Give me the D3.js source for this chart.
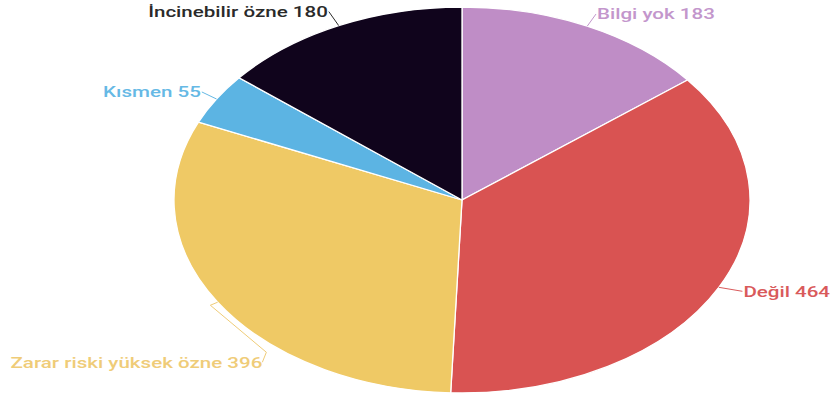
<!DOCTYPE html>
<html><head><meta charset="utf-8">
<script src="https://cdn.jsdelivr.net/npm/d3@7"></script>
<style>html,body{margin:0;padding:0;background:#fff;}svg{display:block;}</style>
</head><body>
<svg id="chart" width="834" height="398"></svg>
<script>
const categories = ["Bilgi yok", "Değil", "Zarar riski yüksek özne", "Kısmen", "İncinebilir özne"];
const values = [183, 464, 396, 55, 180];
const colors = ["#bf8dc6", "#d95352", "#efc965", "#5cb4e3", "#10041c"];
const labelColors = ["#c396cc", "#d95a5b", "#efcc78", "#66b9e5", "#2a2a2a"];

const W = 834, H = 398;
const cx = 462, cy = 200, rx = 288, ry = 193, R = 100;
const svg = d3.select("#chart");

const data = categories.map((c, i) => ({ name: c, value: values[i], color: colors[i], lc: labelColors[i] }));
const pie = d3.pie().value(d => d.value).sort(null).startAngle(0).endAngle(2 * Math.PI);
const arcs = pie(data);
const arc = d3.arc().innerRadius(0).outerRadius(R);

const g = svg.append("g").attr("transform", `translate(${cx},${cy}) scale(${rx / R},${ry / R})`);
g.selectAll("path").data(arcs).join("path")
  .attr("d", arc)
  .attr("fill", d => d.data.color)
  .attr("stroke", "#fff")
  .attr("stroke-width", 1.3)
  .attr("vector-effect", "non-scaling-stroke");

const pt = (a, k) => [cx + rx * k * Math.sin(a), cy - ry * k * Math.cos(a)];

// label layout (extra shift for the crowded bottom-left label)
const layout = [
  { k: 1.07, dx: 0, dy: 0 },
  { k: 1.08, dx: 3, dy: -3 },
  { k: 1.03, dx: 56, dy: 47, elbow: true },
  { k: 1.06, dx: 0, dy: -1 },
  { k: 1.08, dx: 0, dy: 0 }
];
const sx = 1.37, fs = 15;

arcs.forEach((d, i) => {
  const a = (d.startAngle + d.endAngle) / 2;
  const L = layout[i];
  const p0 = pt(a, 1);
  const p1 = pt(a, L.k);
  const right = Math.sin(a) > 0;
  let pts, tx, ty, anchor;
  if (L.elbow) {
    const p2 = [p1[0] + L.dx, p1[1] + L.dy];
    const p3 = [p2[0] - 4, p2[1] + 10];
    pts = [p0, p1, p2, p3];
    tx = p3[0]; ty = p3[1]; anchor = "end";
  } else {
    const p2 = [p1[0] + (right ? L.dx : -L.dx), p1[1] + L.dy];
    pts = [p0, p2];
    tx = p2[0] + (right ? 1 : -1); ty = p2[1]; anchor = right ? "start" : "end";
  }
  svg.append("path")
    .attr("d", d3.line()(pts))
    .attr("fill", "none")
    .attr("stroke", d.data.lc)
    .attr("stroke-width", 1);
  svg.append("g")
    .attr("transform", `translate(${tx},${ty}) scale(${sx},1)`)
    .append("text")
    .attr("text-anchor", anchor)
    .attr("dy", "0.35em")
    .attr("font-family", "Roboto, sans-serif")
    .attr("font-weight", 500)
    .attr("font-size", fs)
    .attr("fill", d.data.lc)
    .text(`${d.data.name} ${d.data.value}`);
});
</script>
</body></html>
